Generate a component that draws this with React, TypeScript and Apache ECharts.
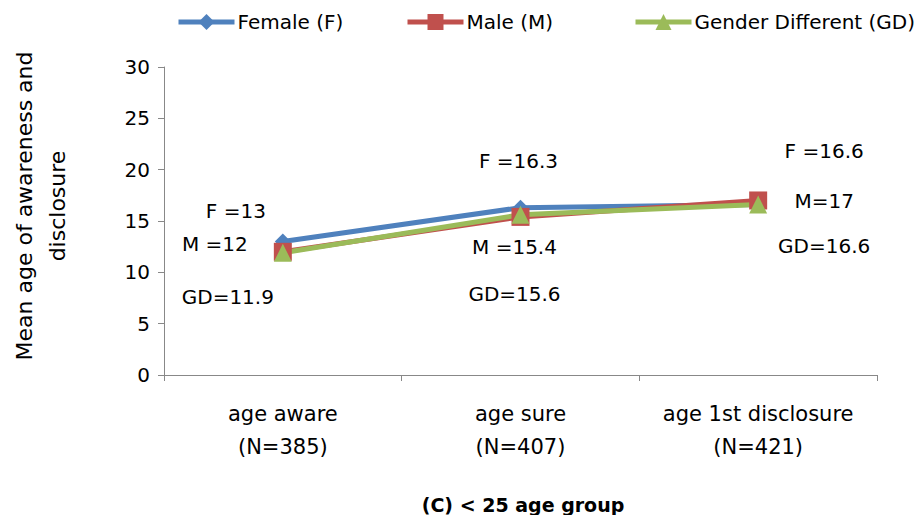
import React, { useEffect, useRef } from "react";
import * as echarts from "echarts";

const categories = ["age aware\n(N=385)", "age sure\n(N=407)", "age 1st disclosure\n(N=421)"];
const female = [13, 16.3, 16.6];
const male = [12, 15.4, 17];
const gd = [11.9, 15.6, 16.6];
const femaleLabels = ["F =13", "F =16.3", "F =16.6"];
const maleLabels = ["M =12", "M =15.4", "M=17"];
const gdLabels = ["GD=11.9", "GD=15.6", "GD=16.6"];
const yTicks = [0, 5, 10, 15, 20, 25, 30];

const FONT = "DejaVu Sans";

const femaleOffsets = [[-47, -31], [-2, -47], [66, -54]];
const maleOffsets = [[-68, -8], [-6, 30], [66, 1]];
const gdOffsets = [[-55, 44], [-6, 79], [66, 41]];

function items(values: number[], labels: string[], offsets: number[][]) {
  return values.map((v, i) => ({
    value: v,
    label: {
      show: true,
      position: "inside",
      offset: offsets[i],
      formatter: labels[i],
      color: "#000",
      fontFamily: FONT,
      fontSize: 20,
    },
  }));
}

export default function App() {
  const ref = useRef<HTMLDivElement>(null);
  useEffect(() => {
    const chart = echarts.init(ref.current!, null, { renderer: "svg" });
    const legendCommon = {
      top: 12,
      padding: 0,
      itemWidth: 56,
      itemHeight: 20,
      itemGap: 3,
      lineStyle: { width: 5 },
      textStyle: { fontFamily: FONT, fontSize: 20, color: "#000", padding: [0, 0, 0, -2] },
    };
    chart.setOption({
      animation: false,
      backgroundColor: "#fff",
      title: {
        text: "(C) < 25 age group",
        left: 518,
        textAlign: "center",
        top: 490,
        textStyle: { fontFamily: FONT, fontSize: 19, fontWeight: "bold", color: "#000" },
      },
      legend: [
        { ...legendCommon, left: 176, data: ["Female (F)"] },
        { ...legendCommon, left: 405, data: ["Male (M)"] },
        { ...legendCommon, left: 633, data: ["Gender Different (GD)"] },
      ],
      grid: { left: 162, right: 42, top: 67, bottom: 140 },
      xAxis: {
        type: "category",
        data: categories,
        boundaryGap: true,
        axisLine: { lineStyle: { color: "#888", width: 1 } },
        axisTick: { show: true, length: 6, lineStyle: { color: "#888" } },
        axisLabel: {
          fontFamily: FONT,
          fontSize: 21,
          color: "#000",
          margin: 22,
          lineHeight: 33,
          interval: 0,
        },
      },
      yAxis: {
        type: "value",
        min: 0,
        max: 30,
        interval: 5,
        name: "Mean age of awareness and\ndisclosure",
        nameLocation: "middle",
        nameGap: 90,
        nameRotate: 90,
        nameTextStyle: {
          fontFamily: FONT,
          fontSize: 22,
          color: "#000",
          lineHeight: 33,
          padding: [0, 0, 0, 30],
        },
        axisLine: { show: true, lineStyle: { color: "#888", width: 1 } },
        axisTick: { show: true, length: 6, lineStyle: { color: "#888" } },
        splitLine: { show: false },
        axisLabel: {
          fontFamily: FONT,
          fontSize: 20,
          color: "#000",
          margin: 14,
          formatter: (v: number) => (yTicks.includes(v) ? String(v) : ""),
        },
      },
      series: [
        {
          name: "Female (F)",
          type: "line",
          data: items(female, femaleLabels, femaleOffsets),
          symbol: "diamond",
          symbolSize: 16,
          color: "#4F81BD",
          lineStyle: { width: 5, color: "#4F81BD" },
          itemStyle: { color: "#4F81BD" },
        },
        {
          name: "Male (M)",
          type: "line",
          data: items(male, maleLabels, maleOffsets),
          symbol: "rect",
          symbolSize: 18,
          color: "#C0504D",
          lineStyle: { width: 5, color: "#C0504D" },
          itemStyle: { color: "#C0504D" },
        },
        {
          name: "Gender Different (GD)",
          type: "line",
          data: items(gd, gdLabels, gdOffsets),
          symbol: "triangle",
          symbolSize: 18,
          color: "#9BBB59",
          lineStyle: { width: 5, color: "#9BBB59" },
          itemStyle: { color: "#9BBB59" },
        },
      ],
    });
    return () => chart.dispose();
  }, []);
  return <div ref={ref} style={{ width: 919, height: 515, position: "absolute", left: 0, top: 0 }} />;
}
